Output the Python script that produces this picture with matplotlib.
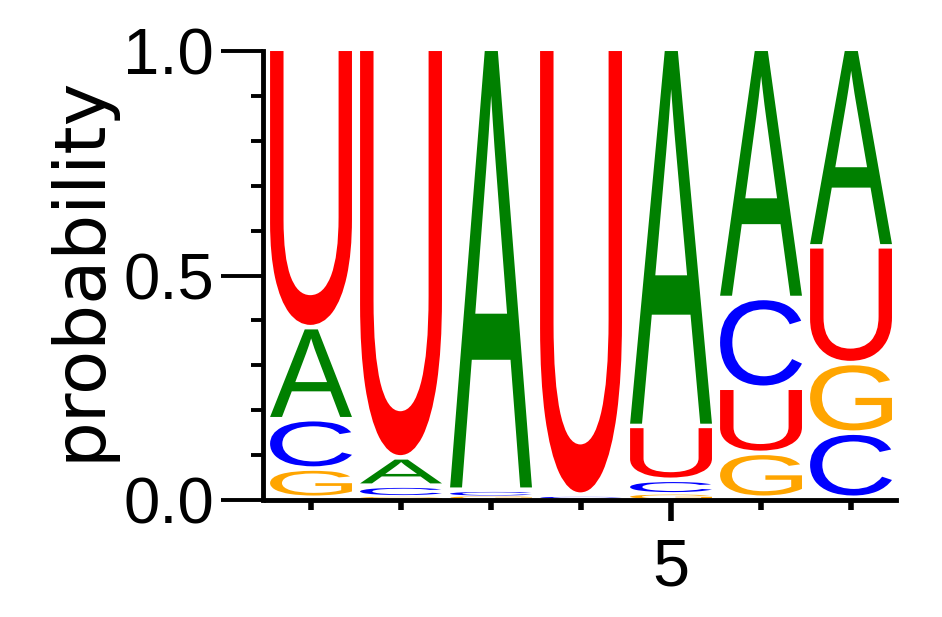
import matplotlib
matplotlib.use("Agg")
import matplotlib.pyplot as plt
from matplotlib.textpath import TextPath
from matplotlib.patches import PathPatch
from matplotlib.font_manager import FontProperties
from matplotlib.ticker import FixedLocator, MultipleLocator
import matplotlib.transforms as mtransforms

# probabilities per position
positions = [1, 2, 3, 4, 5, 6, 7]
prob_A = [0.205, 0.063, 0.982, 0.001, 0.84, 0.555, 0.44]
prob_C = [0.110, 0.020, 0.010, 0.004, 0.028, 0.200, 0.145]
prob_G = [0.065, 0.007, 0.006, 0.002, 0.012, 0.100, 0.155]
prob_U = [0.620, 0.910, 0.002, 0.993, 0.120, 0.145, 0.260]

colors = {"A": "#008000", "C": "#0000ff", "G": "#ffa500", "U": "#ff0000"}
yticks = [0.0, 0.5, 1.0]
ytick_labels = ["0.0", "0.5", "1.0"]
xtick_major = [5]
xtick_labels = ["5"]

plt.rcParams["font.family"] = ["Liberation Sans", "DejaVu Sans"]

fig = plt.figure(figsize=(9.42, 6.17), dpi=100)
ax = fig.add_axes([0.2824, 0.1896, 0.6688, 0.7277])

glyph_font = FontProperties(family="Liberation Sans")
letter_width = 0.91


def draw_letter(letter, xc, y0, h):
    if h <= 0:
        return
    pad = min(0.01, 0.2 * h)
    path = TextPath((0, 0), letter, size=1, prop=glyph_font)
    ext = path.get_extents()
    tr = (mtransforms.Affine2D()
          .translate(-ext.x0, -ext.y0)
          .scale(letter_width / ext.width, (h - pad) / ext.height)
          .translate(xc - letter_width / 2, y0 + pad))
    patch = PathPatch(path, transform=tr + ax.transData, facecolor=colors[letter],
                      edgecolor="none", lw=0, clip_on=False)
    ax.add_patch(patch)


for i, x in enumerate(positions):
    col = {"A": prob_A[i], "C": prob_C[i], "G": prob_G[i], "U": prob_U[i]}
    y = 0.0
    # smallest at bottom, largest on top
    for letter, p in sorted(col.items(), key=lambda kv: kv[1]):
        draw_letter(letter, x, y, p)
        y += p

ax.set_xlim(0.5, 7.5)
ax.set_ylim(0, 1)

for s in ["top", "right"]:
    ax.spines[s].set_visible(False)
ax.spines["left"].set_linewidth(3.5)
ax.spines["bottom"].set_linewidth(3.5)
ax.spines["left"].set_position(("outward", 2.5))

ax.yaxis.set_major_locator(FixedLocator(yticks))
ax.set_yticklabels(ytick_labels)
ax.yaxis.set_minor_locator(MultipleLocator(0.1))
ax.xaxis.set_major_locator(FixedLocator(xtick_major))
ax.set_xticklabels(xtick_labels)
ax.xaxis.set_minor_locator(FixedLocator(positions))

ax.tick_params(axis="y", which="major", length=30, width=2.8, pad=5, labelsize=47)
ax.tick_params(axis="y", which="minor", length=9, width=2.8)
ax.tick_params(axis="x", which="major", length=15, width=4, pad=12, labelsize=48)
ax.tick_params(axis="x", which="minor", length=7.5, width=4)

ax.set_ylabel("probability", fontsize=52, family=["DejaVu Sans"])
ax.yaxis.set_label_coords(-0.24, 0.515)

fig.savefig("out.png", dpi=100)
